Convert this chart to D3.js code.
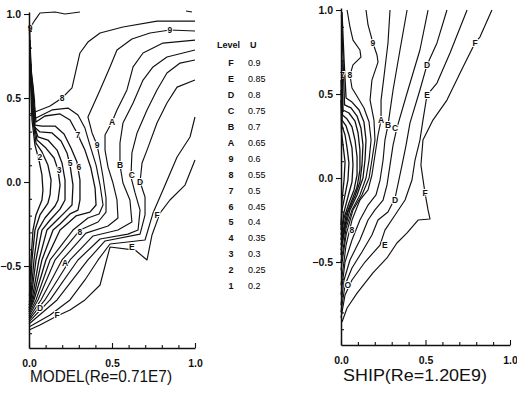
<!DOCTYPE html>
<html>
<head>
<meta charset="utf-8">
<script src="https://cdn.jsdelivr.net/npm/d3@7/dist/d3.min.js"></script>
<style>
  html, body { margin: 0; padding: 0; background: #fff; }
  svg { display: block; font-family: "Liberation Sans", Arial, sans-serif; }
</style>
</head>
<body>
<script>
// axis ticks
const xMajor = [0, 0.5, 1];
const xMinor = [0.1, 0.2, 0.3, 0.4, 0.6, 0.7, 0.8, 0.9];
const yMajor = [-0.5, 0, 0.5, 1];
const yMinor = [-0.9, -0.8, -0.7, -0.6, -0.4, -0.3, -0.2, -0.1, 0.1, 0.2, 0.3, 0.4, 0.6, 0.7, 0.8, 0.9];

// legend
const legendLevels = ['F', 'E', 'D', 'C', 'B', 'A', '9', '8', '7', '6', '5', '4', '3', '2', '1'];
const legendValues = ['0.9', '0.85', '0.8', '0.75', '0.7', '0.65', '0.6', '0.55', '0.5', '0.45', '0.4', '0.35', '0.3', '0.25', '0.2'];

const panelTitles = ['MODEL(Re=0.71E7)', 'SHIP(Re=1.20E9)'];

// MODEL contours, [x, y] in chart units
const modelContours = [
  { level: 'top', pts: [[.006,.917],[.036,.964],[.066,1.006],[.157,1.012],[.217,1.0],[.307,1.012]] },
  { level: 'top', pts: [[.946,1.018],[.982,1.012]] },
  { level: '1', pts: [[.003,.905],[.009,.607],[.018,.369],[.036,.220],[.060,.131],[.078,.042],[.084,-.048],[.078,-.107],[.042,-.196],[.024,-.286],[.012,-.464],[.003,-.679]] },
  { level: '2', pts: [[.003,.905],[.012,.607],[.024,.369],[.042,.232],[.078,.179],[.114,.101],[.133,.012],[.127,-.077],[.114,-.125],[.066,-.196],[.036,-.286],[.018,-.464],[.006,-.696]] },
  { level: '3', pts: [[.006,.845],[.015,.607],[.027,.369],[.048,.250],[.102,.202],[.151,.143],[.175,.071],[.187,-.018],[.175,-.107],[.157,-.143],[.096,-.214],[.054,-.286],[.030,-.464],[.009,-.702],[0,-.714]] },
  { level: '4', pts: [[.006,.786],[.018,.577],[.030,.339],[.054,.268],[.114,.250],[.169,.190],[.199,.113],[.217,.012],[.217,-.107],[.187,-.161],[.127,-.226],[.078,-.286],[.042,-.464],[.012,-.702],[0,-.732]] },
  { level: '5', pts: [[.006,.726],[.027,.548],[.033,.327],[.066,.298],[.139,.292],[.193,.244],[.229,.173],[.247,.101],[.265,-.018],[.259,-.137],[.217,-.179],[.157,-.238],[.108,-.286],[.060,-.464],[.018,-.702],[0,-.75]] },
  { level: '6', pts: [[.009,.667],[.033,.488],[.036,.339],[.078,.333],[.157,.333],[.211,.286],[.253,.202],[.289,.119],[.307,.012],[.307,-.107],[.295,-.167],[.247,-.190],[.187,-.250],[.145,-.286],[.078,-.464],[.024,-.702],[0,-.762]] },
  { level: '7', pts: [[.018,.548],[.036,.429],[.042,.357],[.096,.393],[.187,.405],[.247,.369],[.289,.292],[.337,.190],[.373,.083],[.398,-.036],[.404,-.137],[.367,-.179],[.283,-.202],[.229,-.250],[.187,-.286],[.102,-.464],[.030,-.702],[0,-.774]] },
  { level: '8', pts: [[.042,.381],[.139,.429],[.235,.440],[.295,.399],[.337,.321],[.367,.220],[.404,.101],[.428,-.018],[.446,-.137],[.422,-.190],[.355,-.214],[.265,-.286],[.127,-.464],[.042,-.702],[0,-.786]] },
  { level: '8', pts: [[1,.958],[.771,.958],[.566,.923],[.428,.887],[.355,.833],[.307,.768],[.259,.560],[.199,.5],[.127,.452],[.066,.429],[.006,.405]] },
  { level: '9', pts: [[1,.899],[.849,.905],[.729,.887],[.620,.851],[.530,.786],[.488,.685],[.428,.548],[.355,.387],[.380,.292],[.410,.220],[.428,.131],[.446,.030],[.464,-.095],[.464,-.179],[.416,-.238],[.307,-.286],[.157,-.464],[.054,-.702],[0,-.798]] },
  { level: 'A', pts: [[1,.845],[.807,.827],[.687,.768],[.627,.685],[.590,.548],[.530,.429],[.5,.357],[.458,.280],[.458,.190],[.476,.089],[.506,-.006],[.530,-.107],[.536,-.214],[.476,-.262],[.343,-.304],[.199,-.464],[.072,-.702],[0,-.810]] },
  { level: 'B', pts: [[1,.786],[.831,.744],[.747,.685],[.687,.607],[.627,.470],[.566,.351],[.548,.232],[.548,.101],[.566,-.006],[.608,-.107],[.620,-.238],[.536,-.286],[.386,-.321],[.247,-.464],[.096,-.702],[0,-.821]] },
  { level: 'C', pts: [[1,.726],[.910,.708],[.831,.649],[.771,.548],[.711,.429],[.651,.292],[.620,.173],[.614,.030],[.639,-.065],[.669,-.167],[.657,-.286],[.596,-.310],[.428,-.339],[.295,-.464],[.127,-.702],[0,-.833]] },
  { level: 'D', pts: [[1,.607],[.892,.565],[.831,.470],[.771,.351],[.711,.190],[.681,.113],[.669,0],[.699,-.089],[.699,-.196],[.669,-.310],[.458,-.351],[.355,-.464],[.169,-.702],[0,-.845]] },
  { level: 'E', pts: [[1,.387],[.970,.268],[.892,.149],[.807,-.048],[.747,-.185],[.699,-.345],[.488,-.369],[.416,-.464],[.337,-.583],[.247,-.702],[.127,-.792],[0,-.863]] },
  { level: 'F', pts: [[1,.131],[.940,-.018],[.849,-.107],[.789,-.185],[.741,-.315],[.711,-.464],[.639,-.405],[.488,-.387],[.464,-.476],[.428,-.613],[.337,-.702],[.247,-.762],[.169,-.798],[.066,-.851],[0,-.881]] }
];

const modelLabels = [
  ['9', .006, .917], ['8', .199, .5], ['9', .849, .905], ['A', .5, .357], ['7', .295, .280],
  ['9', .410, .220], ['B', .548, .101], ['C', .620, .042], ['D', .669, 0], ['3', .181, .071],
  ['5', .247, .113], ['6', .301, .089], ['2', .066, .149], ['8', .307, -.298], ['A', .217, -.482],
  ['E', .620, -.387], ['F', .771, -.196], ['D', .066, -.75], ['F', .169, -.792]
];

// SHIP contours
const shipContours = [
  { level: '1', pts: [[0,.464],[.003,.274],[.012,.196],[.024,.095],[.018,-.012],[.006,-.131],[0,-.280]] },
  { level: '2', pts: [[0,.524],[.006,.310],[.024,.256],[.036,.179],[.047,.089],[.041,-.012],[.024,-.101],[.006,-.190],[0,-.310]] },
  { level: '3', pts: [[0,.583],[.006,.345],[.030,.310],[.047,.256],[.065,.179],[.071,.077],[.065,-.024],[.041,-.113],[.018,-.202],[0,-.339]] },
  { level: '4', pts: [[.003,.643],[.009,.375],[.036,.351],[.065,.304],[.083,.226],[.095,.125],[.095,.018],[.077,-.071],[.047,-.149],[.018,-.238],[0,-.369]] },
  { level: '5', pts: [[.006,.702],[.012,.405],[.047,.387],[.083,.339],[.101,.268],[.112,.167],[.112,.048],[.095,-.054],[.065,-.131],[.030,-.220],[.012,-.321],[0,-.399]] },
  { level: '6', pts: [[.003,.970],[.012,.702],[.021,.435],[.059,.417],[.095,.369],[.118,.298],[.130,.196],[.124,.077],[.112,-.024],[.083,-.107],[.041,-.202],[.018,-.310],[0,-.429]] },
  { level: '7', pts: [[.006,.988],[.018,.702],[.030,.476],[.065,.452],[.107,.405],[.136,.333],[.148,.226],[.142,.107],[.130,0],[.095,-.101],[.053,-.190],[.024,-.298],[.006,-.399],[0,-.458]] },
  { level: '8', pts: [[.036,1],[.053,.899],[.071,.821],[.112,.762],[.118,.720],[.071,.673],[.053,.613],[.065,.536],[.101,.476],[.136,.417],[.166,.333],[.178,.226],[.166,.107],[.148,0],[.112,-.101],[.065,-.190],[.030,-.298],[.012,-.429],[0,-.5]] },
  { level: '9', pts: [[.148,1],[.160,.911],[.189,.804],[.213,.732],[.219,.690],[.183,.583],[.172,.464],[.195,.345],[.201,.226],[.183,.107],[.166,0],[.124,-.101],[.071,-.190],[.030,-.339],[0,-.548]] },
  { level: 'A', pts: [[.290,1],[.278,.804],[.254,.601],[.237,.464],[.237,.345],[.219,.256],[.201,.137],[.183,.018],[.160,-.071],[.112,-.131],[.065,-.25],[.030,-.399],[0,-.637]] },
  { level: 'B', pts: [[.391,1],[.349,.762],[.308,.524],[.278,.315],[.260,.226],[.249,.107],[.231,-.012],[.207,-.101],[.160,-.161],[.112,-.25],[.065,-.369],[.024,-.5],[0,-.696]] },
  { level: 'C', pts: [[.515,1],[.467,.762],[.391,.506],[.331,.298],[.308,.196],[.290,.077],[.272,-.042],[.249,-.131],[.201,-.190],[.160,-.25],[.112,-.369],[.053,-.488],[.018,-.607],[0,-.756]] },
  { level: 'D', pts: [[.627,1],[.568,.804],[.509,.673],[.467,.524],[.408,.327],[.385,.196],[.361,.077],[.320,-.119],[.278,-.202],[.219,-.25],[.183,-.339],[.124,-.440],[.065,-.536],[.024,-.637],[0,-.798]] },
  { level: 'E', pts: [[.746,1],[.645,.744],[.568,.565],[.509,.494],[.485,.345],[.467,.226],[.438,.107],[.420,-.012],[.379,-.131],[.320,-.220],[.260,-.310],[.231,-.399],[.142,-.5],[.065,-.607],[.024,-.696],[0,-.833]] },
  { level: 'F', pts: [[.893,1],[.822,.839],[.793,.804],[.722,.661],[.627,.464],[.544,.345],[.485,.226],[.473,.077],[.497,-.089],[.515,-.190],[.527,-.244],[.456,-.25],[.391,-.327],[.331,-.387],[.272,-.476],[.189,-.565],[.095,-.685],[.036,-.774],[.006,-.857]] }
];

const shipLabels = [
  ['7', .008, .613], ['8', .053, .613], ['9', .189, .804], ['A', .237, .345], ['B', .278, .315],
  ['C', .320, .298], ['D', .509, .673], ['E', .509, .494], ['F', .793, .804], ['D', .320, -.131],
  ['F', .497, -.089], ['E', .260, -.399], ['8', .065, -.310], ['O', .041, -.637]
];

const W = 517, H = 394;
const svg = d3.select('body').append('svg')
  .attr('width', W)
  .attr('height', H);

const panels = [
  { contours: modelContours, labels: modelLabels, title: panelTitles[0],
    xr: [29, 195], yd: [-0.988, 1.012], yr: [348, 12], titleX: 101, titleY: 382, titleLen: 142 },
  { contours: shipContours, labels: shipLabels, title: panelTitles[1],
    xr: [341, 510], yd: [-0.994, 1.012], yr: [345, 8], titleX: 415, titleY: 381, titleLen: 144 }
];

panels.forEach(p => {
  const x = d3.scaleLinear().domain([0, 1]).range(p.xr);
  const y = d3.scaleLinear().domain(p.yd).range(p.yr);
  const g = svg.append('g');

  // contour lines
  const line = d3.line().x(d => x(d[0])).y(d => y(d[1]));
  g.selectAll('path.c')
    .data(p.contours)
    .enter().append('path')
    .attr('class', 'c')
    .attr('fill', 'none')
    .attr('stroke', '#111')
    .attr('stroke-width', d => /^[1-7]$/.test(d.level) ? 1.3 : 1.15)
    .attr('stroke-linejoin', 'round')
    .attr('d', d => line(d.pts));

  // level labels on the lines
  g.selectAll('text.lbl')
    .data(p.labels)
    .enter().append('text')
    .attr('class', 'lbl')
    .attr('x', d => x(d[1]))
    .attr('y', d => y(d[2]))
    .attr('dy', '0.35em')
    .attr('text-anchor', 'middle')
    .attr('font-size', '8.5px')
    .attr('font-weight', 'bold')
    .attr('fill', '#111')
    .attr('stroke', '#fff')
    .attr('stroke-width', 2)
    .attr('paint-order', 'stroke')
    .text(d => d[0]);

  // left axis: major ticks outward with labels, minor ticks inward
  g.append('g')
    .attr('transform', `translate(${p.xr[0]},0)`)
    .call(d3.axisLeft(y).tickValues(yMajor).tickSizeInner(5).tickSizeOuter(0)
      .tickPadding(3).tickFormat(d3.format('.1f')));
  g.append('g')
    .attr('transform', `translate(${p.xr[0]},0)`)
    .call(d3.axisLeft(y).tickValues(yMinor).tickSizeInner(-3).tickSizeOuter(0).tickFormat(''))
    .call(a => a.select('.domain').remove());

  // bottom axis: ticks pointing up
  g.append('g')
    .attr('transform', `translate(0,${p.yr[0]})`)
    .call(d3.axisBottom(x).tickValues(xMajor).tickSizeInner(-5).tickSizeOuter(0)
      .tickPadding(12).tickFormat(d3.format('.1f')));
  g.append('g')
    .attr('transform', `translate(0,${p.yr[0]})`)
    .call(d3.axisBottom(x).tickValues(xMinor).tickSizeInner(-3).tickSizeOuter(0).tickFormat(''))
    .call(a => a.select('.domain').remove());

  g.selectAll('.domain').attr('stroke', '#111').attr('stroke-width', 1.5);
  g.selectAll('.tick line').attr('stroke', '#111').attr('stroke-width', 1.1);
  g.selectAll('.tick text')
    .attr('fill', '#111')
    .attr('font-size', '10.5px')
    .attr('font-weight', 'bold')
    .attr('font-family', '"Liberation Sans", Arial, sans-serif');

  // panel title
  g.append('text')
    .attr('x', p.titleX)
    .attr('y', p.titleY)
    .attr('text-anchor', 'middle')
    .attr('font-size', '16px')
    .attr('fill', '#111')
    .attr('textLength', p.titleLen)
    .attr('lengthAdjust', 'spacingAndGlyphs')
    .text(p.title);
});

// legend table
const ly = d3.scalePoint().domain(legendLevels).range([63, 286]);
const legend = svg.append('g')
  .attr('font-size', '9px')
  .attr('font-weight', 'bold')
  .attr('fill', '#111');

legend.append('text').attr('x', 217).attr('y', 48).text('Level');
legend.append('text').attr('x', 250).attr('y', 48).text('U');

legend.selectAll('text.lev')
  .data(legendLevels)
  .enter().append('text')
  .attr('class', 'lev')
  .attr('x', 231)
  .attr('y', d => ly(d))
  .attr('dy', '0.35em')
  .attr('text-anchor', 'middle')
  .text(d => d);

legend.selectAll('text.val')
  .data(legendValues)
  .enter().append('text')
  .attr('class', 'val')
  .attr('x', 248)
  .attr('y', (d, i) => ly(legendLevels[i]))
  .attr('dy', '0.35em')
  .attr('font-weight', 'normal')
  .attr('fill', '#000')
  .text(d => d);
</script>
</body>
</html>
